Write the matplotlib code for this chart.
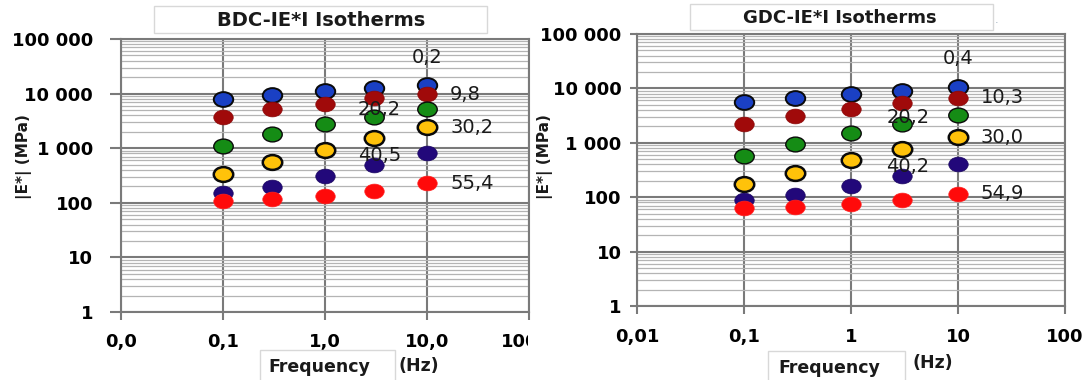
import numpy as np
import matplotlib
matplotlib.use("Agg")
import matplotlib.pyplot as plt
from matplotlib.path import Path
from matplotlib.patches import Rectangle
from matplotlib.transforms import Bbox

# Frequencies of the sweep (Hz)
freq = [0.1, 0.3, 1.0, 3.0, 10.0]

# |E*| (MPa) per isotherm, BDC binder
bdc_t02 = [7950, 9460, 11350, 12530, 14220]
bdc_t98 = [3790, 5230, 6560, 8450, 9720]
bdc_t202 = [1110, 1790, 2740, 3790, 5160]
bdc_t302 = [336, 565, 925, 1515, 2410]
bdc_t405 = [153, 194, 308, 491, 827]
bdc_t554 = [106, 115, 134, 164, 226]
bdc_temps = ["0,2", "9,8", "20,2", "30,2", "40,5", "55,4"]

# |E*| (MPa) per isotherm, GDC binder
gdc_t04 = [5590, 6700, 7940, 9140, 10820]
gdc_t103 = [2175, 3090, 4155, 5350, 6700]
gdc_t202 = [571, 935, 1508, 2175, 3180]
gdc_t300 = [178, 283, 489, 757, 1274]
gdc_t402 = [88, 108, 159, 242, 413]
gdc_t549 = [62, 66, 74, 90, 116]
gdc_temps = ["0,4", "10,3", "20,2", "30,0", "40,2", "54,9"]

y_ticks = [1, 10, 100, 1000, 10000, 100000]
y_labels = ["1", "10", "100", "1 000", "10 000", "100 000"]
x_ticks = [0.01, 0.1, 1, 10, 100]
bdc_xlabels = ["0,0", "0,1", "1,0", "10,0", "100,0"]
gdc_xlabels = ["0,01", "0,1", "1", "10", "100"]

W, H = 1087, 380
fig = plt.figure(figsize=(W / 100, H / 100), dpi=100)


def px_rect(x0, y0, x1, y1):
    # pixel box (top-left origin) -> figure fraction
    return [x0 / W, 1 - y1 / H, (x1 - x0) / W, (y1 - y0) / H]


circ = Path.unit_circle()
ellipse = Path(circ.vertices * np.array([1.0, 0.76]), circ.codes)

styles = [
    dict(mfc="#1a40c4", mec="#0a0a0a", mew=1.4),
    dict(mfc="#a00a0a", mec="#8a0808", mew=0.5),
    dict(mfc="#158c15", mec="#0a0a0a", mew=1.0),
    dict(mfc="#ffc20a", mec="#0a0a0a", mew=1.8),
    dict(mfc="#22087a", mec="#1a0660", mew=0.5),
    dict(mfc="#ff0a0a", mec="#ff2020", mew=0.5),
]

# (column, series, dx px, dy px, ha) for each temperature label
label_spec = [
    (4, 0, 0, 28, "center"),
    (4, 1, 23, 0, "left"),
    (3, 2, 6, 7, "center"),
    (4, 3, 23, 0, "left"),
    (3, 4, 6, 10, "center"),
    (4, 5, 23, 0, "left"),
]


def draw_panel(rect, series, temps, xlabels, tick_len, tick_pad, xpad):
    ax = fig.add_axes(rect)
    ax.set_xscale("log")
    ax.set_yscale("log")
    ax.set_xlim(0.01, 100)
    ax.set_ylim(1, 100000)

    ax.yaxis.set_minor_locator(matplotlib.ticker.LogLocator(base=10, subs=np.arange(2, 10)))
    ax.xaxis.set_minor_locator(matplotlib.ticker.NullLocator())
    ax.grid(True, which="minor", axis="y", color="#b4b4b4", lw=0.9)
    ax.grid(True, which="major", axis="both", color="#7a7a7a", lw=1.5)
    ax.set_axisbelow(True)

    ax.set_yticks(y_ticks)
    ax.set_yticklabels(y_labels)
    ax.set_xticks(x_ticks)
    ax.set_xticklabels(xlabels)
    ax.yaxis.set_minor_formatter(matplotlib.ticker.NullFormatter())
    ax.tick_params(axis="y", which="major", length=tick_len, width=1.5, color="#7a7a7a",
                   pad=tick_pad, labelsize=13)
    ax.tick_params(axis="x", which="major", length=6, width=1.5, color="#7a7a7a",
                   pad=xpad, labelsize=13)
    ax.tick_params(which="minor", length=0)
    for lab in ax.get_xticklabels() + ax.get_yticklabels():
        lab.set_fontweight("bold")
    for s in ax.spines.values():
        s.set_color("#7a7a7a")
        s.set_linewidth(1.5)

    for vals, st in zip(series, styles):
        ax.plot(freq, vals, ls="none", marker=ellipse, ms=14, clip_on=False, zorder=3, **st)

    for (i, k, dx, dy, ha), t in zip(label_spec, temps):
        ax.annotate(t, (freq[i], series[k][i]), xytext=(dx * 0.72, dy * 0.72),
                    textcoords="offset points", ha=ha, va="center",
                    fontsize=14, color="#1a1a1a", zorder=5)
    return ax


ax1 = draw_panel(px_rect(121, 39, 529, 312),
                 [bdc_t02, bdc_t98, bdc_t202, bdc_t302, bdc_t405, bdc_t554],
                 bdc_temps, bdc_xlabels, 8, 12, 9)
ax2 = draw_panel(px_rect(637, 34, 1065, 306),
                 [gdc_t04, gdc_t103, gdc_t202, gdc_t300, gdc_t402, gdc_t549],
                 gdc_temps, gdc_xlabels, 5, 6, 10)

# the last x label of the left chart runs into the right chart
clip = Bbox.from_extents(0, 0, 528, H)
for lab in ax1.get_xticklabels():
    lab.set_clip_box(clip)
    lab.set_clip_on(True)


def box(x0, y0, x1, y1):
    fig.patches.append(Rectangle((x0 / W, 1 - y1 / H), (x1 - x0) / W, (y1 - y0) / H,
                                 transform=fig.transFigure, facecolor="white",
                                 edgecolor="#d8d8d8", lw=1.0))


# titles
box(154, 6, 487, 33)
fig.text(321 / W, 1 - 21 / H, "BDC-IE*I Isotherms", ha="center", va="center",
         fontsize=14, fontweight="bold", color="#1a1a1a")
box(690, 4, 993, 30)
fig.text(840 / W, 1 - 18 / H, "GDC-IE*I Isotherms", ha="center", va="center",
         fontsize=13, fontweight="bold", color="#1a1a1a")
fig.text(997 / W, 1 - 20 / H, ".", ha="center", va="center", fontsize=8, color="#9ab")

# axis titles
box(260, 350, 395, 384)
fig.text(319 / W, 1 - 367 / H, "Frequency", ha="center", va="center",
         fontsize=12.5, fontweight="bold", color="#1a1a1a")
fig.text(419 / W, 1 - 366 / H, "(Hz)", ha="center", va="center",
         fontsize=12.5, fontweight="bold", color="#1a1a1a")
box(768, 351, 905, 384)
fig.text(829 / W, 1 - 368 / H, "Frequency", ha="center", va="center",
         fontsize=12.5, fontweight="bold", color="#1a1a1a")
fig.text(933 / W, 1 - 363 / H, "(Hz)", ha="center", va="center",
         fontsize=12.5, fontweight="bold", color="#1a1a1a")

fig.text(24 / W, 1 - 157 / H, "|E*| (MPa)", rotation=90, ha="center", va="center",
         fontsize=11, fontweight="bold", color="#1a1a1a")
fig.text(545 / W, 1 - 157 / H, "|E*| (MPa)", rotation=90, ha="center", va="center",
         fontsize=11, fontweight="bold", color="#1a1a1a")

fig.savefig("out.png", dpi=100)
